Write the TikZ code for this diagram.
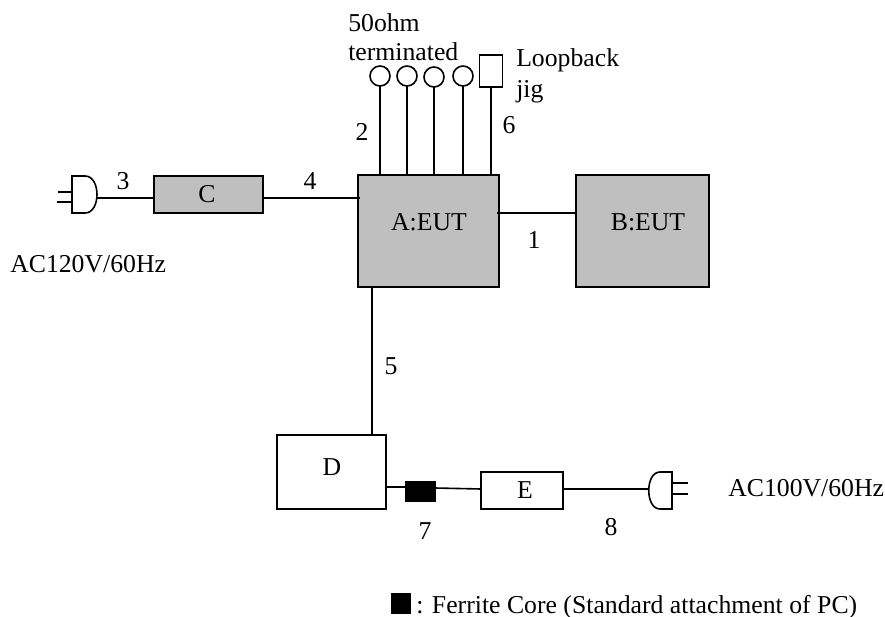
\documentclass[tikz,border=0pt]{standalone}
\usepackage{fontspec}
\setmainfont{Liberation Serif}
\begin{document}
\begin{tikzpicture}[x = .75pt, y = -.75pt, auto = center,
    wire/.style = {line width = 1.2pt},
    unit/.style = {draw, line width = 1.2pt, anchor = north west, inner sep = 0pt, outer sep = 0pt},
    eut/.style = {unit, fill = lightgray},
    term/.style = {draw, circle, line width = 1.2pt, minimum size = 20*.75pt, inner sep = 0pt, outer sep = 0pt},
    lbl/.style = {font = \fontsize{19.3}{21}\selectfont, inner sep = 0pt}]
          \useasboundingbox (0,0) rectangle (885,617);
          \node[eut, minimum width = 141*.75pt, minimum height = 112*.75pt] (boxA) at (358,175) {};
          \node[eut, minimum width = 133*.75pt, minimum height = 112*.75pt] (boxB) at (576,175) {};
          \node[eut, minimum width = 109*.75pt, minimum height = 37*.75pt] (boxC) at (154,176) {};
          \node[unit, minimum width = 109*.75pt, minimum height = 74*.75pt] (boxD) at (277,435) {};
          \node[unit, minimum width = 82*.75pt, minimum height = 37*.75pt] (boxE) at (481,472) {};
          \node[unit, fill = black, minimum width = 29*.75pt, minimum height = 19*.75pt] (core) at (406,482) {};
          \node[unit, minimum width = 23*.75pt, minimum height = 32*.75pt] (jig) at (479.5,55) {};
          \node[term] (termA) at (380,76) {};
          \node[term] (termB) at (407,76) {};
          \node[term] (termC) at (434,77) {};
          \node[term] (termD) at (463,76) {};
          \node[fill = black, anchor = north west, inner sep = 0pt, minimum width = 20*.75pt, minimum height = 21*.75pt] (key) at (391,593) {};
          \coordinate (plugL) at (97,198);
          \coordinate (plugR) at (649,489);
          \draw[wire] (plugL) -- (boxC.west |- plugL);
          \draw[wire] (boxC.east |- plugL) -- (360,198);
          \draw[wire] (497,213) -- (boxB.west |- 0,213);
          \draw[wire] (372,287) -- (372,435);
          \draw[wire] (boxD.east |- 0,487) -- (core.west |- 0,487);
          \draw[wire] (core.east |- 0,488) -- (boxE.west |- 0,489);
          \draw[wire] (boxE.east |- plugR) -- (plugR);
          \draw[wire] (termA.south) -- (termA |- boxA.north);
          \draw[wire] (termB.south) -- (termB |- boxA.north);
          \draw[wire] (termC.south) -- (termC |- boxA.north);
          \draw[wire] (termD.south) -- (termD |- boxA.north);
          \draw[wire] (jig.south) -- (jig.south |- boxA.north);
          \draw[wire] (72,176) -- (85,176) .. controls (101,176) and (101,213) .. (85,213) -- (72,213) -- cycle;
          \draw[wire] (58,192) -- (72,192);
          \draw[wire] (57,202) -- (72,202);
          \draw[wire] (672,472) -- (660,472) .. controls (645,472) and (645,509) .. (660,509) -- (672,509) -- cycle;
          \draw[wire] (672,483) -- (688,483);
          \draw[wire] (672,494) -- (688,494);
          \node[lbl] (numA) at (534,240) {1};
          \node[lbl] (numB) at (362,132) {2};
          \node[lbl] (numC) at (123,181) {3};
          \node[lbl] (numD) at (310,181) {4};
          \node[lbl] (numE) at (391,366) {5};
          \node[lbl] (numF) at (509,125) {6};
          \node[lbl] (numG) at (425,531) {7};
          \node[lbl] (numH) at (611,527) {8};
          \node[lbl] (txtA) at (429,222) {A:EUT};
          \node[lbl] (txtB) at (648,222) {B:EUT};
          \node[lbl] (txtC) at (207,194) {C};
          \node[lbl] (txtD) at (332,467) {D};
          \node[lbl] (txtE) at (525,490) {E};
          \node[lbl, anchor = west] (acA) at (10,264) {AC120V/60Hz};
          \node[lbl, anchor = west] (acB) at (728,488) {AC100V/60Hz};
          \node[lbl, anchor = west] (ohm) at (348,23) {50ohm};
          \node[lbl, anchor = west] (termtxt) at (348,52) {terminated};
          \node[lbl, anchor = west] (loop) at (516,60) {Loopback};
          \node[lbl, anchor = west] (jigtxt) at (516,92) {jig};
          \node[lbl, anchor = base west] (keytxt) at (416,613) {: Ferrite Core (Standard attachment of PC)};
        \end{tikzpicture}
\end{document}
